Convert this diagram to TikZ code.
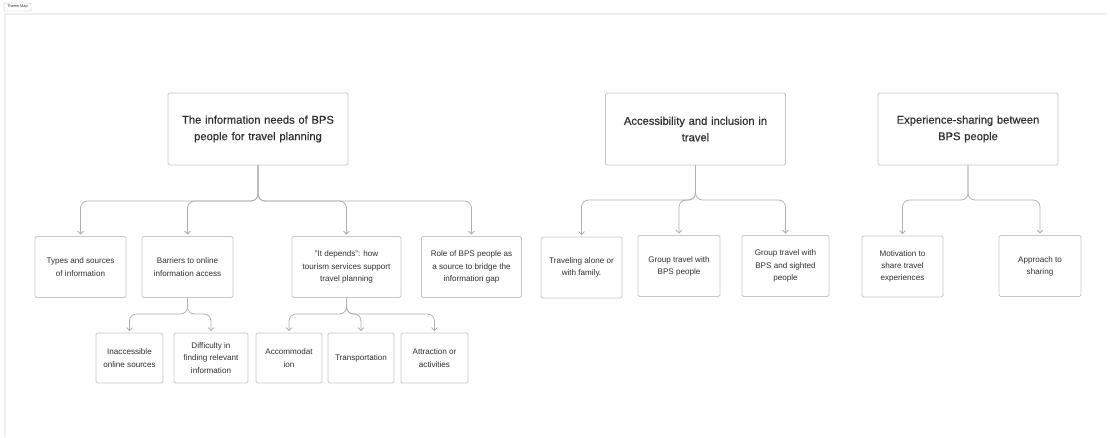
\documentclass[tikz,border=0pt]{standalone}
\usepackage{fontspec}
\setmainfont{Liberation Sans}
\newfontfamily\medfont[FakeBold=0.35]{Liberation Sans}
\usetikzlibrary{arrows.meta}
\definecolor{boxline}{HTML}{C8C8C8}
\definecolor{connline}{HTML}{B0B0B0}
\definecolor{txt}{HTML}{2F2F2F}
\definecolor{framec}{HTML}{EFEFEF}
\tikzset{
  x=1pt, y=-1pt,
  mainbox/.style={draw=boxline, line width=0.8pt, rounded corners=1.5pt, fill=white,
    minimum width=180pt, minimum height=72pt, text width=170pt, align=center,
    text=txt, font=\medfont\fontsize{11.2}{16.5}\selectfont, inner sep=0pt},
  subbox/.style={draw=boxline, line width=0.8pt, rounded corners=1.5pt, fill=white,
    minimum height=61pt, align=center, text=txt,
    font=\fontsize{8.1}{12.2}\selectfont, inner sep=0pt},
  leafbox/.style={subbox, minimum height=50pt},
  conn/.style={draw=connline, line width=0.8pt, rounded corners=7pt,
    -{Straight Barb[length=3pt,width=6pt]}, shorten >=1.5pt},
}
\begin{document}
\begin{tikzpicture}
\useasboundingbox (0,0) rectangle (1110,437);
% frame
\draw[framec, line width=1.2pt] (5,437) -- (5,14) -- (1107,14);
\node[draw=gray!60, line width=0.4pt, rounded corners=0.5pt, inner sep=0.8pt, minimum width=27pt, minimum height=8pt,
  font=\fontsize{3.8}{4}\selectfont, text=txt] (tag) at (17.5,7) {Theme Map};

% main nodes
\node[mainbox] (m1) at (258,129) {The information needs of BPS\\people for travel planning};
\node[mainbox] (m2) at (695.5,129) {Accessibility and inclusion in\\travel};
\node[mainbox] (m3) at (968,129) {Experience-sharing between\\BPS people};

% level 2
\node[subbox, minimum width=91pt] (a) at (80.5,267) {Types and sources\\of information};
\node[subbox, minimum width=91pt] (b) at (187.5,267) {Barriers to online\\information access};
\node[subbox, minimum width=109pt] (c) at (346.5,267) {"It depends": how\\tourism services support\\travel planning};
\node[subbox, minimum width=100pt] (d) at (471.5,267) {Role of BPS people as\\a source to bridge the\\information gap};
\node[subbox, minimum width=81pt] (e) at (581.5,267.5) {Traveling alone or\\with family.};
\node[subbox, minimum width=82pt] (f) at (679,266) {Group travel with\\BPS people};
\node[subbox, minimum width=87pt] (g) at (785.5,266) {Group travel with\\BPS and sighted\\people};
\node[subbox, minimum width=81pt] (h) at (902.5,266.5) {Motivation to\\share travel\\experiences};
\node[subbox, minimum width=82pt] (i) at (1040,266) {Approach to\\sharing};

% level 3
\node[leafbox, minimum width=67pt] (j) at (129.5,358) {Inaccessible\\online sources};
\node[leafbox, minimum width=74pt] (k) at (211,358) {Difficulty in\\finding relevant\\information};
\node[leafbox, minimum width=66pt] (l) at (289,358) {Accommodat\\ion};
\node[leafbox, minimum width=66pt] (n) at (361,358) {Transportation};
\node[leafbox, minimum width=67pt] (o) at (434.5,358) {Attraction or\\activities};

% connectors level 1
\foreach \c in {a,b,c,d}
  \draw[conn] (m1.south) -- (m1.south |- 0,201) -- (\c.north |- 0,201) -- (\c.north);
\foreach \c in {e,f,g}
  \draw[conn] (m2.south) -- (m2.south |- 0,200) -- (\c.north |- 0,200) -- (\c.north);
\foreach \c in {h,i}
  \draw[conn] (m3.south) -- (m3.south |- 0,200) -- (\c.north |- 0,200) -- (\c.north);
% connectors level 2
\foreach \c in {j,k}
  \draw[conn] (b.south) -- (b.south |- 0,314) -- (\c.north |- 0,314) -- (\c.north);
\foreach \c in {l,n,o}
  \draw[conn] (c.south) -- (c.south |- 0,314) -- (\c.north |- 0,314) -- (\c.north);
\end{tikzpicture}
\end{document}
